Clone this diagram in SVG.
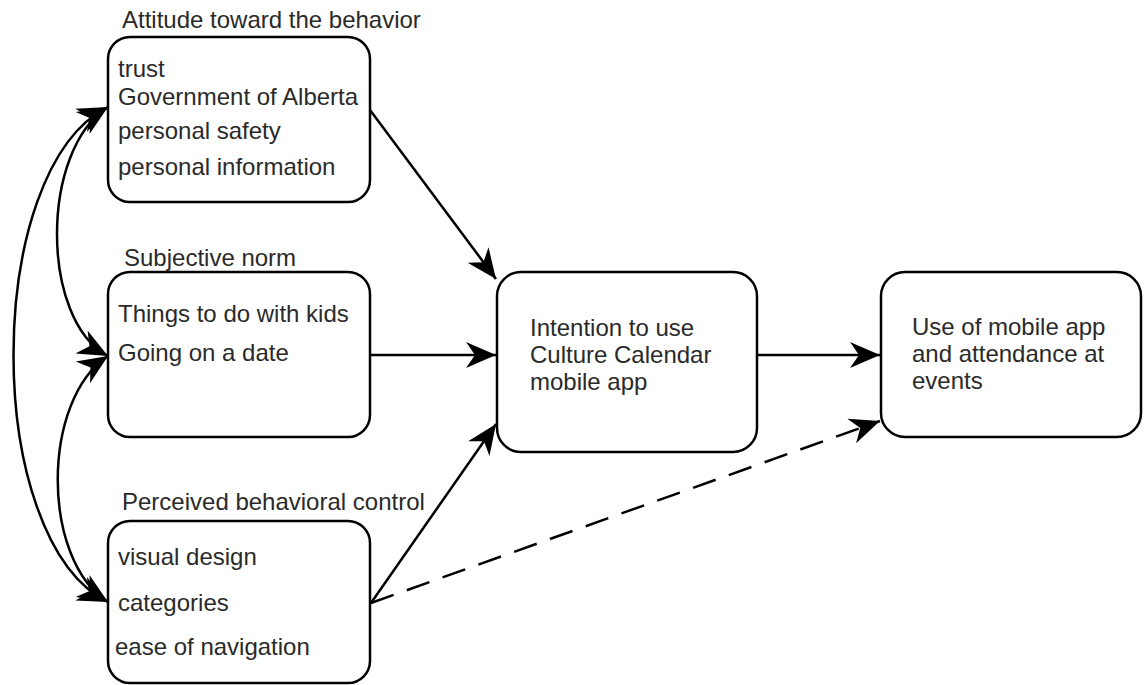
<svg xmlns="http://www.w3.org/2000/svg" width="1144" height="685" viewBox="0 0 1144 685">
<defs>
<style>
.box{fill:#fff;stroke:#000;stroke-width:2.5}
.t{font-family:"Liberation Sans",Arial,sans-serif;font-size:24px;fill:#2a2a2a}
.c{fill:none;stroke:#000;stroke-width:2.5}
.d{stroke-dasharray:24 14}
</style>
<marker id="ah" viewBox="-34 -17 36 34" refX="0" refY="0" markerWidth="36" markerHeight="34" markerUnits="userSpaceOnUse" orient="auto-start-reverse">
<path d="M0,0 L-30,-13 L-21,0 L-30,13 Z" fill="#000"/>
</marker>
</defs>
<rect width="1144" height="685" fill="#fff"/>
<g id="connectors">
<path class="c" d="M108,107 C40,150 40,320 108,356" marker-start="url(#ah)" marker-end="url(#ah)"/>
<path class="c" d="M108,107 C-18,170 -18,540 108,602" marker-start="url(#ah)" marker-end="url(#ah)"/>
<path class="c" d="M108,356 C41,400 41,560 108,602" marker-start="url(#ah)" marker-end="url(#ah)"/>
<path class="c" d="M370,110 L496,279" marker-end="url(#ah)"/>
<path class="c" d="M370,355 L496,355" marker-end="url(#ah)"/>
<path class="c" d="M371,603 L496,424" marker-end="url(#ah)"/>
<path class="c" d="M757,355 L880,355" marker-end="url(#ah)"/>
<path class="c d" d="M371,603 L880,421" marker-end="url(#ah)"/>
</g>
<g id="attitude">
<text class="t" x="122" y="28">Attitude toward the behavior</text>
<rect class="box" x="108" y="37" width="262" height="165" rx="22"/>
<text class="t" x="118" y="77">trust</text>
<text class="t" x="118" y="105">Government of Alberta</text>
<text class="t" x="118" y="139">personal safety</text>
<text class="t" x="118" y="175">personal information</text>
</g>
<g id="subjective">
<text class="t" x="124" y="266">Subjective norm</text>
<rect class="box" x="108" y="272" width="262" height="165" rx="22"/>
<text class="t" x="118" y="322">Things to do with kids</text>
<text class="t" x="118" y="361">Going on a date</text>
</g>
<g id="perceived">
<text class="t" x="122" y="510">Perceived behavioral control</text>
<rect class="box" x="108" y="521" width="262" height="162" rx="22"/>
<text class="t" x="118" y="565">visual design</text>
<text class="t" x="118" y="611">categories</text>
<text class="t" x="115" y="655">ease of navigation</text>
</g>
<g id="intention">
<rect class="box" x="497" y="272" width="260" height="180" rx="24"/>
<text class="t" x="530" y="336">Intention to use</text>
<text class="t" x="530" y="363">Culture Calendar</text>
<text class="t" x="530" y="390">mobile app</text>
</g>
<g id="use">
<rect class="box" x="881" y="272" width="260" height="165" rx="24"/>
<text class="t" x="912" y="335">Use of mobile app</text>
<text class="t" x="912" y="362">and attendance at</text>
<text class="t" x="912" y="389">events</text>
</g>
</svg>
